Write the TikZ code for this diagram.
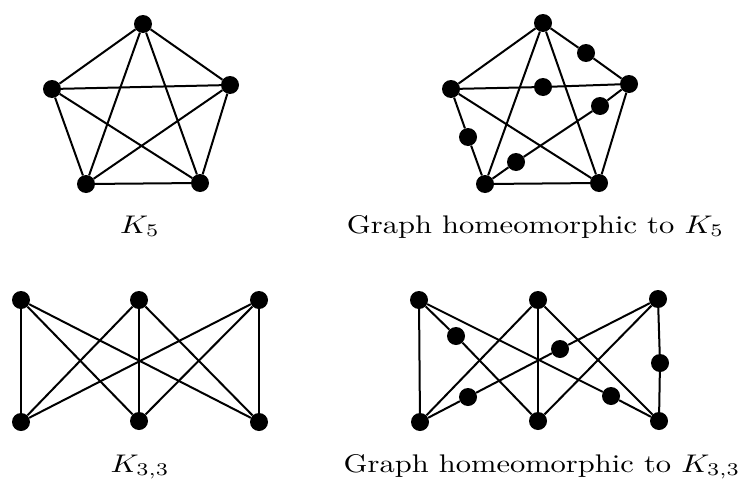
\documentclass[tikz,border=0pt]{standalone}
\usepackage{graphicx}
\newcommand{\lbltext}[1]{\scalebox{3.05}[2.55]{#1}}
\begin{document}
\begin{tikzpicture}[x=1pt,y=-1pt,
  vtx/.style={circle,fill=black,inner sep=0pt,minimum size=18pt},
  edge/.style={line width=2pt},
  lbl/.style={anchor=base,inner sep=0pt}]
\useasboundingbox (0,0) rectangle (739,479);
% K5
\node[vtx] (a1) at (143,24) {};
\node[vtx] (a2) at (52,89) {};
\node[vtx] (a3) at (230,85) {};
\node[vtx] (a4) at (86,184) {};
\node[vtx] (a5) at (200,183) {};
\foreach \u/\v in {a1/a2,a1/a3,a1/a4,a1/a5,a2/a3,a2/a4,a2/a5,a3/a4,a3/a5,a4/a5}
  \draw[edge] (\u) -- (\v);
% homeomorphic K5
\node[vtx] (b1) at (543,23) {};
\node[vtx] (b2) at (451,89) {};
\node[vtx] (b3) at (629,84) {};
\node[vtx] (b4) at (485,184) {};
\node[vtx] (b5) at (599,183) {};
\node[vtx] (s1) at (586,53) {};
\node[vtx] (s2) at (543,87) {};
\node[vtx] (s3) at (600,106) {};
\node[vtx] (s4) at (516,162) {};
\node[vtx] (s5) at (468,137) {};
\foreach \u/\v in {b1/b2,b1/s1,s1/b3,b1/b4,b1/b5,b2/s2,s2/b3,b2/s5,s5/b4,b2/b5,b3/s3,s3/s4,s4/b4,b3/b5,b4/b5}
  \draw[edge] (\u) -- (\v);
% K33
\node[vtx] (c1) at (21,300) {};
\node[vtx] (c2) at (139,300) {};
\node[vtx] (c3) at (259,300) {};
\node[vtx] (d1) at (21,422) {};
\node[vtx] (d2) at (139,421) {};
\node[vtx] (d3) at (259,422) {};
\foreach \u in {c1,c2,c3}
  \foreach \v in {d1,d2,d3}
    \draw[edge] (\u) -- (\v);
% homeomorphic K33
\node[vtx] (e1) at (419,300) {};
\node[vtx] (e2) at (538,300) {};
\node[vtx] (e3) at (658,299) {};
\node[vtx] (f1) at (420,422) {};
\node[vtx] (f2) at (538,421) {};
\node[vtx] (f3) at (659,421) {};
\node[vtx] (t1) at (456,336) {};
\node[vtx] (t2) at (560,349) {};
\node[vtx] (t3) at (468,397) {};
\node[vtx] (t4) at (611,396) {};
\node[vtx] (t5) at (660,363) {};
\foreach \u/\v in {e1/f1,e1/t1,t1/f2,e1/t4,t4/f3,e2/f1,e2/f2,e2/f3,e3/t2,t2/t3,t3/f1,e3/f2,e3/t5,t5/f3}
  \draw[edge] (\u) -- (\v);
% labels
\node[lbl] (l1) at (140,233) {\lbltext{$K_5$}};
\node[lbl] (l2) at (535.5,233) {\lbltext{Graph homeomorphic to $K_5$}};
\node[lbl] (l3) at (140,472) {\lbltext{$K_{3,3}$}};
\node[lbl] (l4) at (542,472) {\lbltext{Graph homeomorphic to $K_{3,3}$}};
\end{tikzpicture}
\end{document}
